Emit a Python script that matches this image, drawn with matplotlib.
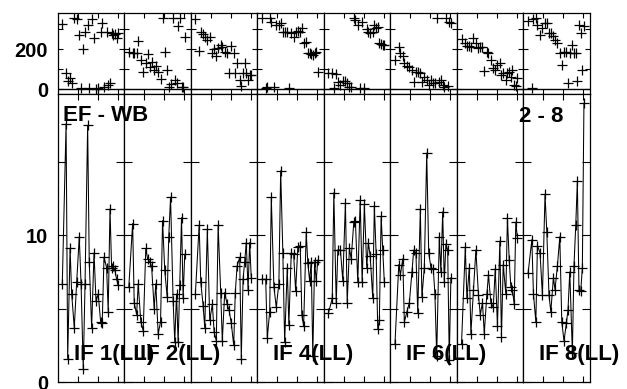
import matplotlib
matplotlib.use("Agg")
import matplotlib.pyplot as plt

plt.rcParams['font.family'] = ['Liberation Sans', 'DejaVu Sans']

# time (hours within each panel window)
TIME_H = [0.23, 0.42, 0.50, 0.62, 0.70, 0.83, 0.95, 1.08, 1.17, 1.28, 1.37, 1.50, 1.58, 1.70,
          1.82, 1.92, 2.03, 2.15, 2.23, 2.32, 2.45, 2.53, 2.62, 2.70, 2.78, 2.87, 2.95, 3.03]

AMP_IF1 = [6.7, 17.6, 1.6, 9.1, 6.0, 3.7, 6.8, 9.9, 6.7, 0.9, 6.7, 17.5, 8.2, 3.7, 8.8, 5.5, 6.0, 4.1, 4.0, 8.5, 7.8, 4.8, 11.8, 7.8, 7.9, 7.6, 7.0, 6.6]
AMP_IF2 = [6.5, 10.8, 5.4, 4.6, 6.7, 4.1, 3.5, 9.1, 8.4, 8.2, 7.9, 5.0, 6.7, 3.3, 4.1, 11.0, 7.6, 5.8, 9.9, 12.6, 5.5, 2.75, 6.0, 2.7, 6.6, 11.2, 5.7, 8.7]
AMP_IF3 = [6.0, 10.7, 6.8, 5.2, 3.7, 10.4, 4.2, 5.3, 3.4, 2.8, 10.7, 6.1, 2.8, 6.1, 5.3, 4.9, 4.0, 2.5, 6.1, 7.9, 8.5, 1.6, 7.0, 8.2, 9.5, 6.3, 9.5, 7.1]
AMP_IF4 = [7.0, 7.0, 3.0, 4.8, 12.6, 6.5, 5.1, 6.7, 14.4, 8.8, 2.7, 7.8, 3.9, 8.8, 8.7, 6.2, 9.2, 9.3, 4.6, 3.8, 10.2, 8.1, 6.9, 8.2, 1.8, 8.2, 6.9, 8.3]
AMP_IF5 = [4.7, 5.7, 12.9, 5.4, 9.0, 9.0, 6.9, 12.2, 5.4, 9.1, 8.4, 10.9, 11.0, 6.8, 12.4, 6.8, 12.1, 7.8, 9.5, 8.6, 5.7, 12.0, 8.7, 3.6, 4.2, 11.3, 9.0, 6.8]
AMP_IF6 = [2.6, 8.0, 7.3, 8.4, 4.1, 4.8, 5.4, 7.5, 9.0, 8.8, 4.7, 11.8, 5.8, 7.8, 15.6, 8.8, 7.8, 7.7, 6.0, 1.8, 9.9, 7.5, 11.6, 6.8, 9.4, 9.0, 1.5, 7.1]
AMP_IF7 = [2.6, 9.2, 5.7, 7.8, 3.3, 6.3, 9.0, 5.9, 4.6, 5.4, 3.3, 6.0, 7.3, 5.4, 5.1, 7.7, 3.8, 9.6, 3.1, 8.0, 6.0, 11.2, 8.3, 6.5, 6.3, 5.3, 10.9, 9.8]
AMP_IF8 = [7.4, 9.7, 6.0, 4.1, 9.3, 8.8, 5.9, 12.8, 10.2, 5.9, 4.8, 7.1, 6.3, 7.9, 9.9, 4.1, 2.8, 4.0, 4.9, 7.5, 2.0, 7.9, 10.7, 13.7, 6.3, 6.2, 7.8, 19.0]

PH_IF1 = [327, 83, 42, 55, 33, 355, 350, 272, 8, 200, 288, 322, 5, 352, 255, 2, 8, 288, 330, 13, 288, 22, 30, 280, 272, 277, 255, 283]
PH_IF2 = [188, 183, 183, 183, 242, 147, 85, 130, 177, 113, 138, 97, 117, 85, 52, 355, 188, 97, 13, 25, 355, 47, 33, 317, 355, 10, 10, 263]
PH_IF3 = [350, 193, 288, 277, 263, 247, 263, 183, 200, 167, 208, 222, 213, 188, 180, 83, 217, 183, 80, 130, 47, 17, 80, 133, 83, 47, 72, 72]
PH_IF4 = [355, 5, 13, 355, 338, 10, 322, 322, 330, 288, 288, 288, 5, 280, 263, 288, 290, 285, 305, 230, 238, 180, 180, 175, 172, 183, 185, 88]
PH_IF5 = [80, 83, 5, 77, 38, 22, 43, 40, 30, 10, 10, 355, 347, 322, 5, 338, 5, 300, 288, 280, 288, 322, 305, 310, 230, 225, 222, 222]
PH_IF6 = [147, 213, 180, 167, 133, 117, 110, 97, 38, 88, 88, 80, 38, 63, 47, 22, 47, 33, 30, 355, 38, 47, 22, 13, 355, 17, 338, 333]
PH_IF7 = [250, 230, 217, 217, 213, 255, 233, 205, 213, 210, 93, 188, 180, 147, 105, 97, 122, 130, 72, 80, 47, 80, 88, 63, 97, 22, 17, 55]
PH_IF8 = [343, 5, 350, 355, 322, 272, 305, 330, 330, 280, 280, 267, 247, 230, 180, 122, 188, 188, 33, 180, 222, 183, 180, 43, 322, 280, 97, 317]

IF_LABELS = ['IF 1(LL)', 'IF 2(LL)', '', 'IF 4(LL)', '', 'IF 6(LL)', '', 'IF 8(LL)']
BASELINE = 'EF - WB'
RANGE_TXT = '2 - 8'

AMPS = [AMP_IF1, AMP_IF2, AMP_IF3, AMP_IF4, AMP_IF5, AMP_IF6, AMP_IF7, AMP_IF8]
PHS = [PH_IF1, PH_IF2, PH_IF3, PH_IF4, PH_IF5, PH_IF6, PH_IF7, PH_IF8]

W, H = 627, 389
fig = plt.figure(figsize=(W / 100, H / 100), dpi=100)

x0 = 57.7
x1 = 590.0
pw = (x1 - x0) / 8
top_y0, top_y1 = 12.7, 94.0
low_y0, low_y1 = 94.0, 382.0

FS = 16
TFS = 14.5

for i in range(8):
    left = (x0 + i * pw) / W
    # phase panel
    axp = fig.add_axes([left, 1 - top_y1 / H, pw / W, (top_y1 - top_y0) / H])
    axp.plot(TIME_H, PHS[i], linestyle='none', marker='+', color='black', ms=7, mew=0.9)
    axp.axhline(0, color='black', lw=1.0)
    axp.set_xlim(0, 10 / 3)
    axp.set_ylim(-23.5, 383)
    axp.set_xticks([1, 2, 3])
    axp.set_xticklabels([])
    axp.set_yticks([0, 100, 200, 300])
    if i == 0:
        axp.set_yticklabels(['0', '', '200', ''], fontsize=TFS, fontweight='bold')
    else:
        axp.set_yticklabels([])
    axp.tick_params(direction='in', top=True, right=True, length=3.5, width=0.8, pad=7)
    for s in axp.spines.values():
        s.set_linewidth(0.9)

    # amplitude panel
    axa = fig.add_axes([left, 1 - low_y1 / H, pw / W, (low_y1 - low_y0) / H])
    axa.plot(TIME_H, AMPS[i], '-', color='black', lw=0.75, marker='+', ms=7, mew=0.9)
    axa.set_xlim(0, 10 / 3)
    axa.set_ylim(0, 19.63)
    axa.set_xticks([1, 2, 3])
    axa.set_xticklabels([])
    axa.set_yticks([0, 5, 10, 15])
    if i == 0:
        axa.set_yticklabels(['0', '', '10', ''], fontsize=TFS, fontweight='bold')
    else:
        axa.set_yticklabels([])
    axa.tick_params(axis='x', direction='in', top=True, length=4, width=0.8)
    axa.tick_params(axis='y', direction='in', right=True, length=6, width=0.8, pad=7)
    for s in axa.spines.values():
        s.set_linewidth(0.9)

    if IF_LABELS[i]:
        fig.text((x0 + i * pw + 16) / W, 1 - 360 / H, IF_LABELS[i], fontsize=FS,
                 fontweight='bold', ha='left', va='baseline')

fig.text(63 / W, 1 - 120.7 / H, BASELINE, fontsize=FS, fontweight='bold', ha='left', va='baseline')
fig.text(563 / W, 1 - 121.5 / H, RANGE_TXT, fontsize=FS, fontweight='bold', ha='right', va='baseline')

fig.savefig('out.png', dpi=100)
